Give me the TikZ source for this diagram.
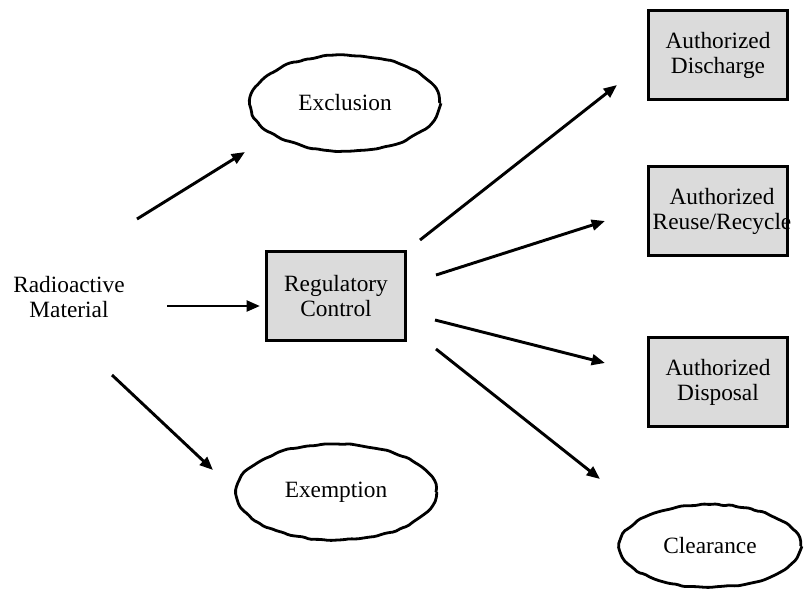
\documentclass[tikz,border=0pt]{standalone}
\usepackage{fontspec}
\setmainfont{Liberation Serif}
\usetikzlibrary{shapes.geometric,decorations.pathmorphing,arrows.meta}
\tikzset{
    >={Triangle[length=10pt,width=8pt]},
    plain/.style={
        align=center,
        font=\fontsize{17.5}{18.8}\selectfont
    },
    ctrlbox/.style={
        rectangle,
        draw=black, line width=1.8pt,
        fill=black!14,
        minimum width=104pt,
        minimum height=67pt,
        inner sep=0pt,
        plain
    },
    wobbly/.style={
        ellipse,
        draw=black, line width=2.1pt,
        line join=round,
        rounded corners=1.5pt,
        decorate,
        decoration={random steps, segment length=5pt, amplitude=0.7pt},
        inner sep=0pt,
        plain
    },
    arrow/.style={draw, line width=2.2pt, ->}
}
\newcommand{\nudged}[1]{\hspace*{3pt}#1\hspace*{-3pt}}

\begin{document}
\pgfmathsetseed{7}
\begin{tikzpicture}[x=0.75pt, y=-0.75pt]
    \useasboundingbox (0,0) rectangle (806,590);

    % source and regulatory control
    \node[plain] (material) at (69,297) {Radioactive\\Material};
    \node[ctrlbox] (control) at (336,296) {Regulatory\\Control};

    % excluded / exempted material
    \node[wobbly, minimum width=142pt, minimum height=72pt] (exclusion) at (345,103) {Exclusion};
    \node[wobbly, minimum width=150pt, minimum height=72pt] (exemption) at (336,492) {\raisebox{-8pt}{\smash{Exemption}}};

    % authorized routes out of control
    \node[ctrlbox] (discharge) at (718,55) {Authorized\\Discharge};
    \node[ctrlbox] (recycle) at (718,211) {\nudged{Authorized}\\\nudged{Reuse/Recycle}};
    \node[ctrlbox] (disposal) at (718,382) {Authorized\\Disposal};
    \node[wobbly, minimum width=136pt, minimum height=62pt] (clearance) at (710,546) {Clearance};

    % arrow ends
    \coordinate (m excl) at (137,219);
    \coordinate (excl in) at (245,152);
    \coordinate (m ctrl) at (167,306);
    \coordinate (ctrl in) at (260,306);
    \coordinate (m exem) at (112,375);
    \coordinate (exem in) at (213,470);
    \coordinate (c dis) at (420,240);
    \coordinate (dis in) at (617,85);
    \coordinate (c rec) at (436,275);
    \coordinate (rec in) at (605,221);
    \coordinate (c dsp) at (435,320);
    \coordinate (dsp in) at (605,363);
    \coordinate (c clr) at (436,349);
    \coordinate (clr in) at (600,479);

    \draw[arrow] (m excl) -- (excl in);
    \draw[arrow] (m ctrl) -- (ctrl in);
    \draw[arrow] (m exem) -- (exem in);
    \draw[arrow] (c dis) -- (dis in);
    \draw[arrow] (c rec) -- (rec in);
    \draw[arrow] (c dsp) -- (dsp in);
    \draw[arrow] (c clr) -- (clr in);
\end{tikzpicture}
\end{document}
